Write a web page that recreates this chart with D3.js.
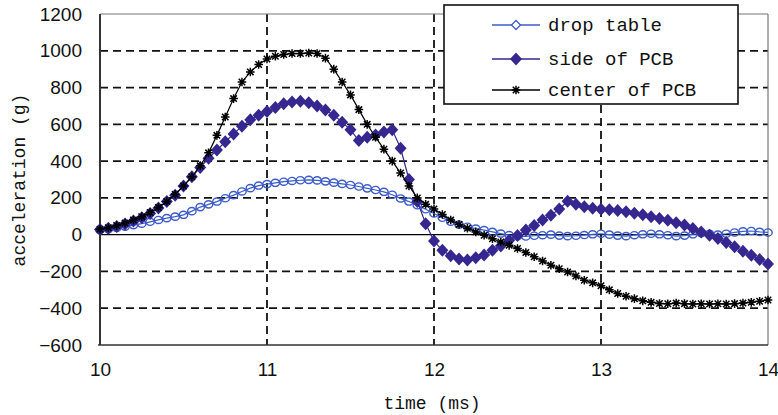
<!DOCTYPE html>
<html><head><meta charset="utf-8">
<script src="https://cdn.jsdelivr.net/npm/d3@7"></script>
<style>body{margin:0;background:#fff;}svg{display:block;}</style>
</head><body>
<svg id="chart" width="778" height="415"></svg>
<script>
const times = [10.00,10.05,10.10,10.15,10.20,10.25,10.30,10.35,10.40,10.45,10.50,10.55,10.60,10.65,10.70,10.75,10.80,10.85,10.90,10.95,
11.00,11.05,11.10,11.15,11.20,11.25,11.30,11.35,11.40,11.45,11.50,11.55,11.60,11.65,11.70,11.75,11.80,11.85,11.90,11.95,
12.00,12.05,12.10,12.15,12.20,12.25,12.30,12.35,12.40,12.45,12.50,12.55,12.60,12.65,12.70,12.75,12.80,12.85,12.90,12.95,
13.00,13.05,13.10,13.15,13.20,13.25,13.30,13.35,13.40,13.45,13.50,13.55,13.60,13.65,13.70,13.75,13.80,13.85,13.90,13.95,14.00];

const dropTable = [25,30,36,44,52,60,70,80,90,98,108,128,150,165,180,198,215,235,253,267,
275,282,288,292,296,298,295,290,283,276,270,262,252,243,233,217,197,180,160,138,
115,92,70,55,43,33,25,15,6,-2,-8,-10,-6,-3,0,-5,-8,-6,-2,2,
5,0,-5,-8,-3,2,5,2,-3,-8,-5,2,8,5,0,5,12,18,20,15,12];

const sidePCB = [28,35,45,58,75,92,115,145,180,215,265,315,365,415,460,505,548,590,625,650,
670,692,712,722,725,718,700,678,650,612,570,512,530,542,558,570,470,300,180,60,
-35,-85,-115,-132,-138,-125,-110,-85,-62,-30,-5,25,50,80,105,140,182,165,152,143,
138,136,132,125,117,108,97,88,78,65,52,33,15,-3,-21,-43,-66,-90,-112,-135,-160];

const centerPCB = [30,38,50,63,80,98,120,148,180,220,265,315,375,445,540,640,740,830,885,925,
955,970,980,985,985,988,985,960,900,830,760,680,600,530,465,400,335,265,200,165,
140,110,80,55,35,15,-3,-22,-40,-58,-75,-97,-120,-143,-166,-185,-203,-225,-248,-262,
-278,-300,-320,-335,-348,-360,-368,-374,-376,-372,-375,-377,-376,-377,-376,-377,-375,-372,-368,-362,-355];

const seriesNames = ["drop table","side of PCB","center of PCB"];
const seriesColors = ["#3d5cc9","#35278f","#000000"];
const yTicks = [-600,-400,-200,0,200,400,600,800,1000,1200];
const xTicks = [10,11,12,13,14];
const xLabel = "time (ms)";
const yLabel = "acceleration (g)";

const svg = d3.select("#chart");
const x = d3.scaleLinear().domain([10,14]).range([100,768]);
const y = d3.scaleLinear().domain([-600,1200]).range([345,14]);

// grid
const g = svg.append("g");
g.selectAll("line.hg").data(yTicks.filter(v=>v!==0 && v!==-600 && v!==1200)).enter().append("line")
  .attr("x1",x(10)).attr("x2",x(14)).attr("y1",d=>y(d)).attr("y2",d=>y(d))
  .attr("stroke","#111").attr("stroke-width",1.8).attr("stroke-dasharray","8,5");
g.selectAll("line.vg").data(xTicks.filter(v=>v!==10 && v!==14)).enter().append("line")
  .attr("x1",d=>x(d)).attr("x2",d=>x(d)).attr("y1",y(1200)).attr("y2",y(-600))
  .attr("stroke","#111").attr("stroke-width",1.8).attr("stroke-dasharray","8,5");
// borders
g.append("line").attr("x1",x(10)).attr("x2",x(14)).attr("y1",y(1200)).attr("y2",y(1200)).attr("stroke","#777").attr("stroke-width",1.2);
g.append("line").attr("x1",x(14)).attr("x2",x(14)).attr("y1",y(1200)).attr("y2",y(-600)).attr("stroke","#777").attr("stroke-width",1.2);
g.append("line").attr("x1",x(10)-2).attr("x2",x(14)).attr("y1",y(-600)).attr("y2",y(-600)).attr("stroke","#333").attr("stroke-width",1.6);
g.append("line").attr("x1",x(10)).attr("x2",x(14)).attr("y1",y(0)).attr("y2",y(0)).attr("stroke","#000").attr("stroke-width",1.3);
g.append("line").attr("x1",x(10)).attr("x2",x(10)).attr("y1",y(1200)).attr("y2",y(-600)).attr("stroke","#333").attr("stroke-width",2);

// axes labels
const yAxis = svg.append("g").attr("transform",`translate(${x(10)},0)`)
  .call(d3.axisLeft(y).tickValues(yTicks).tickFormat(d3.format("d")).tickSize(0).tickPadding(18));
yAxis.select(".domain").remove();
yAxis.selectAll("text").attr("font-family","Liberation Sans, Arial, sans-serif").attr("font-size",19).attr("fill","#111");
const xAxis = svg.append("g").attr("transform",`translate(0,${y(-600)})`)
  .call(d3.axisBottom(x).tickValues(xTicks).tickFormat(d3.format("d")).tickSize(0).tickPadding(18));
xAxis.select(".domain").remove();
xAxis.selectAll("text").attr("font-family","Liberation Sans, Arial, sans-serif").attr("font-size",19).attr("fill","#111");

svg.append("text").attr("x",432).attr("y",409).attr("text-anchor","middle")
  .attr("font-family","Liberation Mono, DejaVu Sans Mono, monospace").attr("font-size",18).attr("fill","#111").text(xLabel);
svg.append("text").attr("transform","translate(25,180) rotate(-90)").attr("text-anchor","middle")
  .attr("font-family","Liberation Mono, DejaVu Sans Mono, monospace").attr("font-size",18).attr("fill","#111").text(yLabel);

// series
const allSeries = [dropTable, sidePCB, centerPCB];
const line = d3.line().x((d,i)=>x(times[i])).y(d=>y(d));
const starPath = r => `M${-r},0L${r},0M0,${-r}L0,${r}M${-r*0.75},${-r*0.75}L${r*0.75},${r*0.75}M${-r*0.75},${r*0.75}L${r*0.75},${-r*0.75}`;
function drawMarker(sel, k){
  if(k===0){
    sel.append("ellipse").attr("rx",4.2).attr("ry",3.6).attr("fill","none").attr("stroke",seriesColors[0]).attr("stroke-width",1.4);
  } else if(k===1){
    sel.append("path").attr("d","M0,-6.5L6,0L0,6.5L-6,0Z").attr("fill",seriesColors[1]);
  } else {
    sel.append("path").attr("d",starPath(4.3)).attr("stroke","#000").attr("stroke-width",1.5).attr("fill","none");
  }
}
allSeries.forEach((vals,k)=>{
  const sg = svg.append("g");
  sg.append("path").datum(vals).attr("d",line).attr("fill","none").attr("stroke",seriesColors[k]).attr("stroke-width",1.2);
  sg.selectAll("g.m").data(vals).enter().append("g").attr("transform",(d,i)=>`translate(${x(times[i])},${y(d)})`)
    .each(function(){ drawMarker(d3.select(this),k); });
});

// legend
const lg = svg.append("g");
lg.append("rect").attr("x",444).attr("y",5).attr("width",294).attr("height",99).attr("fill","#fff").attr("stroke","#111").attr("stroke-width",1.6);
const rowsY = [25,59,90];
seriesNames.forEach((name,k)=>{
  lg.append("line").attr("x1",492).attr("x2",540).attr("y1",rowsY[k]).attr("y2",rowsY[k]).attr("stroke",seriesColors[k]).attr("stroke-width",1.4);
  const m = lg.append("g").attr("transform",`translate(516,${rowsY[k]})`);
  if(k===0){
    m.append("path").attr("d","M0,-4.5L4.5,0L0,4.5L-4.5,0Z").attr("fill","#fff").attr("stroke",seriesColors[0]).attr("stroke-width",1.3);
  } else drawMarker(m,k);
  lg.append("text").attr("x",548).attr("y",rowsY[k]+6).attr("font-family","Liberation Mono, DejaVu Sans Mono, monospace")
    .attr("font-size",19).attr("fill","#111").text(name);
});
</script>
</body></html>
